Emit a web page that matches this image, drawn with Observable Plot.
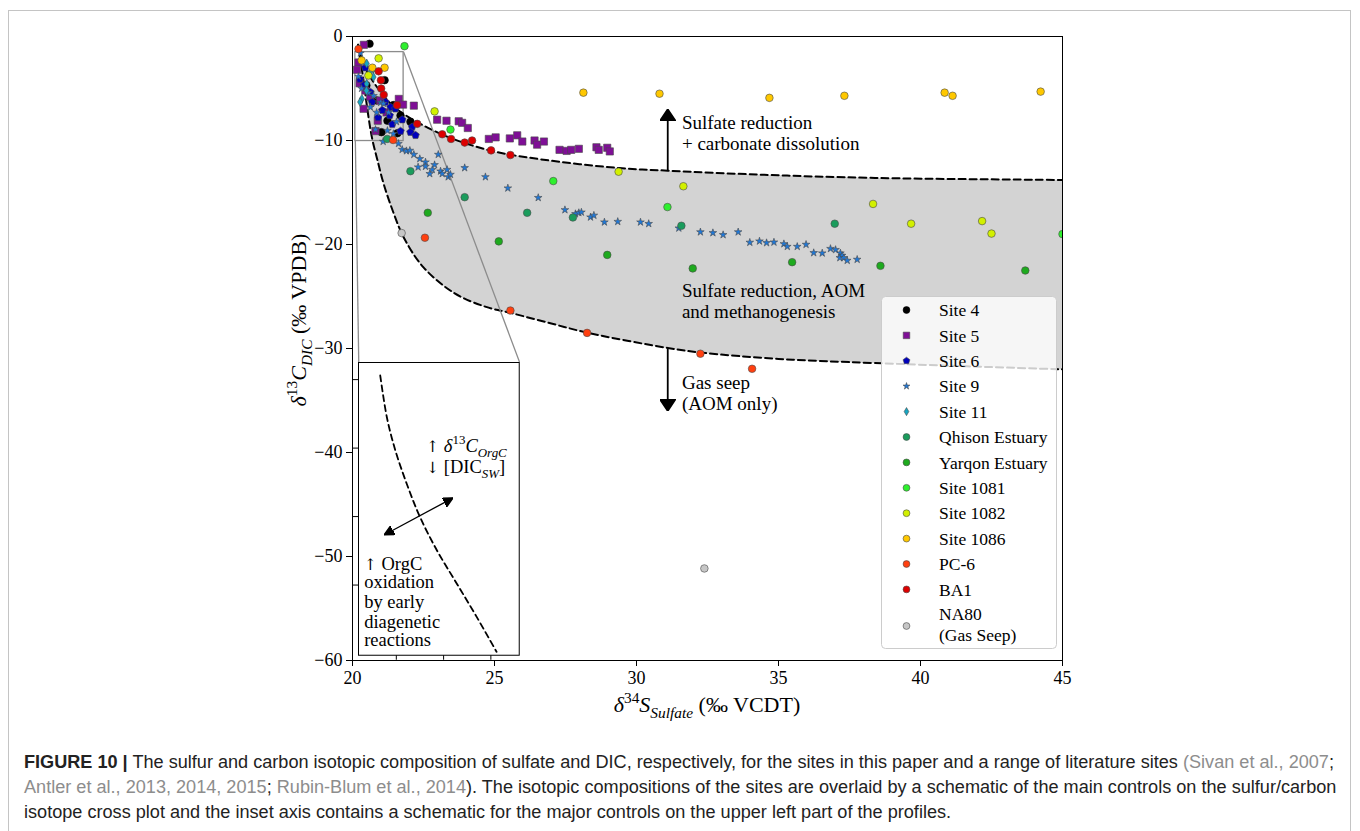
<!DOCTYPE html>
<html>
<head>
<meta charset="utf-8">
<script src="https://cdn.jsdelivr.net/npm/d3@7"></script>
<script src="https://cdn.jsdelivr.net/npm/@observablehq/plot@0.6"></script>
<style>
  html, body { margin: 0; padding: 0; background: #fff; }
  body { width: 1360px; height: 831px; overflow: hidden; position: relative; }
  #frame { position: absolute; left: 8px; top: 10px; width: 1343px; height: 900px; border: 1px solid #c4c4c4; box-sizing: border-box; }
  #chart { position: absolute; left: 0; top: 0; }
  #inset { position: absolute; }
  #caption { position: absolute; left: 24px; top: 750px; font-family: "Liberation Sans", Arial, sans-serif; font-size: 16px; line-height: 25px; color: #222; white-space: nowrap; }
  #caption .c { color: #8d8d8d; }
  #caption .ln { display: inline-block; }
</style>
</head>
<body>
<div id="frame"></div>
<div id="chart"></div>
<div id="inset"></div>
<div id="caption">
  <span class="ln" id="ln1"><b>FIGURE 10 |</b> The sulfur and carbon isotopic composition of sulfate and DIC, respectively, for the sites in this paper and a range of literature sites <span class="c">(Sivan et al., 2007</span>;</span><br>
  <span class="ln" id="ln2"><span class="c">Antler et al., 2013, 2014, 2015</span>; <span class="c">Rubin-Blum et al., 2014</span>). The isotopic compositions of the sites are overlaid by a schematic of the main controls on the sulfur/carbon</span><br>
  <span class="ln" id="ln3">isotope cross plot and the inset axis contains a schematic for the major controls on the upper left part of the profiles.</span>
</div>
<script>
// ---------------- data ----------------
const xTicks = [20, 25, 30, 35, 40, 45];
const yTicks = [0, -10, -20, -30, -40, -50, -60];
const insetXTicks = [20.5, 21, 21.5];
const insetYTicks = [-2, -4, -6, -8];
const zoomX = [20.1, 21.8];
const zoomY = [-10.05, -1.5];

const site4 = [[20.60,-0.7],[20.49,-4.7],[21.13,-4.2],[20.85,-6.15],[21.44,-6.6],[21.69,-7.6],[21.23,-8.1],[22.04,-8.2],[21.02,-9.2],[21.58,-9.3]];
const site5 = [[20.40,-0.8],[20.21,-2.5],[20.16,-3.2],[20.25,-4.5],[20.45,-5.2],[20.62,-5.8],[20.97,-6.15],[20.39,-6.95],[21.2,-7.3],[21.63,-6.0],[21.78,-6.55],[22.16,-6.65],[20.89,-8.1],[20.81,-9.1],
  [22.98,-8.0],[23.31,-8.1],[23.74,-8.15],[23.86,-8.3],[24.06,-8.8],[24.80,-9.85],[25.04,-9.7],[25.54,-9.8],[25.80,-9.5],[25.98,-10.1],[26.41,-10.0],[26.50,-10.4],[26.74,-10.1],[27.29,-10.9],[27.54,-11.0],[27.70,-10.9],[27.97,-10.8],[28.59,-10.65],[28.67,-10.9],[28.97,-10.7],[29.06,-11.05]];
const site6 = [[20.45,-3.0],[20.26,-4.1],[20.40,-4.7],[20.63,-5.35],[20.69,-6.3],[21.16,-6.3],[21.34,-6.8],[21.51,-6.95],[21.05,-7.1],[21.31,-7.6],[20.9,-7.8],[21.40,-8.45],[21.75,-8.0],[22.10,-8.7],[21.69,-9.1],[22.04,-9.2],[22.22,-9.5]];
const site9 = [[20.28,-1.6],[20.35,-2.5],[20.21,-3.85],[20.32,-5.0],[20.56,-5.4],[20.74,-5.7],[20.99,-6.35],[21.09,-6.45],[20.63,-6.8],[20.85,-7.3],[21.27,-7.3],[21.55,-8.2],[20.81,-8.95],[21.23,-9.05],[21.44,-9.35],[21.62,-10.3],
  [21.08,-10.1],[21.75,-10.87],[21.90,-11.0],[22.02,-10.96],[22.16,-11.35],[22.37,-11.76],[22.57,-12.08],[22.31,-12.56],[22.57,-12.5],[22.89,-12.34],[22.81,-12.8],[22.72,-13.2],[23.10,-12.95],[23.16,-13.2],[23.33,-12.8],[23.37,-13.5],[23.45,-13.27],[23.02,-11.35],[23.95,-12.63],[24.68,-13.5],[25.47,-14.58],[26.54,-15.5],
  [27.48,-16.67],[27.85,-17.05],[27.97,-16.95],[28.06,-16.9],[28.38,-17.37],[28.50,-17.2],[28.87,-17.85],[29.34,-17.8],[30.14,-17.85],[30.43,-18.0],[31.49,-18.43],[32.25,-18.8],[32.69,-18.88],[33.05,-19.07],[33.58,-18.8],[33.99,-19.8],[34.33,-19.68],[34.58,-19.84],[34.84,-19.78],[35.19,-19.94],[35.31,-20.2],[35.66,-20.2],[35.97,-20.0],[36.24,-20.8],[36.54,-20.83],[36.83,-20.4],[37.01,-20.5],[37.18,-20.83],[37.24,-21.06],[37.16,-21.28],[37.30,-21.28],[37.42,-21.54],[37.77,-21.44]];
const site11 = [[20.50,-2.6],[20.74,-3.1],[20.62,-3.45],[20.74,-3.9],[20.50,-4.55],[20.49,-5.2],[20.33,-6.0],[20.27,-6.3]];
const qhison = [[21.22,-9.85],[22.04,-12.95],[23.95,-15.45],[26.15,-16.95],[27.76,-17.4],[31.58,-18.2],[36.98,-18.0]];
const yarqon = [[22.65,-16.95],[25.15,-19.7],[28.97,-21.0],[31.98,-22.3],[35.48,-21.7],[38.59,-22.05],[43.69,-22.5]];
const site1081 = [[21.83,-0.93],[23.45,-8.95],[27.07,-13.9],[31.09,-16.4],[45.0,-19.0]];
const site1082 = [[20.92,-2.1],[20.56,-3.75],[22.89,-7.2],[29.37,-13.0],[31.65,-14.4],[38.33,-16.1],[39.67,-18.0],[42.17,-17.75],[42.50,-18.95]];
const site1086 = [[20.32,-2.3],[20.70,-3.0],[21.13,-3.0],[28.13,-5.4],[30.81,-5.5],[34.68,-5.9],[37.32,-5.7],[40.85,-5.4],[41.13,-5.7],[44.23,-5.3]];
const pc6 = [[20.21,-1.2],[21.43,-9.95],[22.55,-19.35],[25.56,-26.35],[28.26,-28.5],[32.25,-30.5],[34.07,-31.95]];
const ba1 = [[20.92,-3.35],[21.0,-4.2],[21.01,-5.0],[21.10,-5.6],[21.57,-6.6],[22.28,-8.4],[23.16,-9.4],[23.47,-9.85],[23.95,-10.2],[24.21,-10.0],[24.88,-10.95],[25.56,-11.4]];
const na80 = [[21.73,-18.9],[32.39,-51.15]];

// schematic boundaries (continue slightly past the right edge; clipped by the frame)
const upperCurve = [[20.2,-0.8],[20.45,-3.0],[20.9,-5.0],[21.4,-6.6],[22.0,-7.8],[22.6,-8.7],[23.4,-9.7],[24.9,-11.0],[26.6,-11.8],[29.4,-12.65],[31.1,-12.9],[34.5,-13.3],[38.4,-13.6],[45,-13.8],[48,-13.9]];
const lowerCurve = [[20.2,-0.8],[20.4,-4.5],[20.55,-7.5],[20.69,-9.8],[20.87,-11.8],[21.1,-14.2],[21.45,-17.0],[21.8,-19.3],[22.5,-22.2],[23.6,-24.7],[24.7,-26.0],[25.6,-26.6],[27.0,-27.6],[28.3,-28.5],[31.1,-29.95],[32.3,-30.4],[35,-31.0],[38.4,-31.4],[45,-32.0],[48,-32.2]];
const insetCurve = [[20.33,-1.88],[20.40,-3.10],[20.49,-4.07],[20.61,-5.04],[20.75,-6.01],[20.93,-6.99],[21.14,-7.96],[21.35,-8.93],[21.56,-9.95]];

const annoLines = [
  {x: 31.6, y: -8.35, t: "Sulfate reduction"},
  {x: 31.6, y: -10.3, t: "+ carbonate dissolution"},
  {x: 31.6, y: -24.5, t: "Sulfate reduction, AOM"},
  {x: 31.6, y: -26.45, t: "and methanogenesis"},
  {x: 31.6, y: -33.35, t: "Gas seep"},
  {x: 31.6, y: -35.3, t: "(AOM only)"}
];
const annoArrows = [
  {x1: 31.1, y1: -12.9, x2: 31.1, y2: -7.05},
  {x1: 31.1, y1: -30.0, x2: 31.1, y2: -35.95}
];
const insetLines = [
  {x: 20.16, y: -7.92, t: "oxidation"},
  {x: 20.16, y: -8.49, t: "by early"},
  {x: 20.16, y: -9.08, t: "diagenetic"},
  {x: 20.16, y: -9.62, t: "reactions"}
];
const insetArrow = [{x1: 20.375, y1: -6.53, x2: 21.096, y2: -5.46}];
const insetRich = [{x: 20.82, y: -3.95}, {x: 20.82, y: -4.58}, {x: 20.16, y: -7.40}];
const insetBox = {x1: 20.22, x2: 25.88, y1: -59.45, y2: -31.3};

// ---------------- styles ----------------
const pentagon = {draw(ctx, size) {
  const r = Math.sqrt(size / Math.PI);
  for (let i = 0; i < 5; i++) {
    const a = -Math.PI / 2 + i * 2 * Math.PI / 5;
    const px = r * Math.cos(a), py = r * Math.sin(a);
    if (i === 0) ctx.moveTo(px, py); else ctx.lineTo(px, py);
  }
  ctx.closePath();
}};
const thinDiamond = {draw(ctx, size) {
  const r = Math.sqrt(size / Math.PI);
  const h = r * 1.25, w = r * 0.72;
  ctx.moveTo(0, -h); ctx.lineTo(w, 0); ctx.lineTo(0, h); ctx.lineTo(-w, 0); ctx.closePath();
}};

const series = [
  {name: "Site 4", pts: site4, color: "#000000", symbol: "circle", r: 3.8},
  {name: "Site 5", pts: site5, color: "#7f0f96", symbol: "square", r: 4.1},
  {name: "Site 6", pts: site6, color: "#0000bb", symbol: pentagon, r: 4.0},
  {name: "Site 9", pts: site9, color: "#1f78d8", symbol: "star", r: 2.4},
  {name: "Site 11", pts: site11, color: "#16a6c2", symbol: thinDiamond, r: 3.6},
  {name: "Qhison Estuary", pts: qhison, color: "#1a9c5c", symbol: "circle", r: 3.8},
  {name: "Yarqon Estuary", pts: yarqon, color: "#1eaa1e", symbol: "circle", r: 3.8},
  {name: "Site 1081", pts: site1081, color: "#2ef02e", symbol: "circle", r: 3.8},
  {name: "Site 1082", pts: site1082, color: "#d2f000", symbol: "circle", r: 3.8},
  {name: "Site 1086", pts: site1086, color: "#ffc800", symbol: "circle", r: 3.8},
  {name: "PC-6", pts: pc6, color: "#ff4010", symbol: "circle", r: 3.8},
  {name: "BA1", pts: ba1, color: "#dd0000", symbol: "circle", r: 3.8},
  {name: "NA80\n(Gas Seep)", pts: na80, color: "#c6c6c6", symbol: "circle", r: 3.8}
];

const serif = "'Liberation Serif', 'DejaVu Serif', serif";
const arrowFont = "'DejaVu Serif', serif";
const toXY = a => a.map(([x, y]) => ({x, y}));
const polygon = toXY(upperCurve.concat(lowerCurve.slice().reverse()));

function triMarker(len, wid) {
  return (color) => {
    const ns = "http://www.w3.org/2000/svg";
    const m = document.createElementNS(ns, "marker");
    m.setAttribute("viewBox", `0 ${-wid / 2} ${len} ${wid}`);
    m.setAttribute("markerWidth", len);
    m.setAttribute("markerHeight", wid);
    m.setAttribute("markerUnits", "userSpaceOnUse");
    m.setAttribute("refX", len - 0.5);
    m.setAttribute("refY", 0);
    m.setAttribute("orient", "auto-start-reverse");
    const p = document.createElementNS(ns, "path");
    p.setAttribute("d", `M0,${-wid / 2}L${len},0L0,${wid / 2}Z`);
    p.setAttribute("fill", color === "none" ? "black" : color);
    m.appendChild(p);
    return m;
  };
}
const minus = d => (d < 0 ? "\u2212" + Math.abs(d) : String(d));

const dotMarks = series.map(s => Plot.dot(toXY(s.pts), {
  x: "x", y: "y", r: s.r, symbol: s.symbol, fill: s.color,
  stroke: s.color === "#000000" ? "#000" : "#4a4a4a", strokeWidth: 0.6, clip: true
}));

const main = Plot.plot({
  width: 1360, height: 720,
  marginLeft: 352, marginRight: 298, marginTop: 36, marginBottom: 60,
  x: {domain: [20, 45], ticks: xTicks, tickFormat: d => String(d), label: null, tickSize: 6, tickPadding: 5},
  y: {domain: [-60, 0], ticks: yTicks, tickFormat: minus, label: null, tickSize: 6, tickPadding: 4},
  style: {fontFamily: serif, fontSize: "18px", background: "transparent", overflow: "visible", color: "black"},
  marks: [
    Plot.line(polygon, {x: "x", y: "y", fill: "#d3d3d3", stroke: "none", curve: "catmull-rom", clip: true}),
    Plot.line(toXY(upperCurve), {x: "x", y: "y", stroke: "black", strokeWidth: 2, strokeDasharray: "7,4", curve: "catmull-rom", clip: true}),
    Plot.line(toXY(lowerCurve), {x: "x", y: "y", stroke: "black", strokeWidth: 2, strokeDasharray: "7,4", curve: "catmull-rom", clip: true}),
    Plot.rect([{x1: zoomX[0], x2: zoomX[1], y1: zoomY[0], y2: zoomY[1]}], {x1: "x1", x2: "x2", y1: "y1", y2: "y2", fill: "none", stroke: "#8c8c8c", strokeWidth: 1.3}),
    Plot.link([
      {x1: zoomX[1], y1: zoomY[1], x2: insetBox.x2, y2: insetBox.y2},
      {x1: zoomX[0], y1: zoomY[0], x2: insetBox.x1, y2: insetBox.y2}
    ], {x1: "x1", y1: "y1", x2: "x2", y2: "y2", stroke: "#8c8c8c", strokeWidth: 1.3}),
    Plot.link(annoArrows, {x1: "x1", y1: "y1", x2: "x2", y2: "y2", stroke: "black", strokeWidth: 1.8, markerEnd: triMarker(12, 16)}),
    Plot.text(annoLines, {x: "x", y: "y", text: "t", textAnchor: "start", lineAnchor: "middle", fontSize: 19, fontFamily: serif, fill: "black"}),
    ...dotMarks,
    Plot.frame({stroke: "black", strokeWidth: 1})
  ]
});
document.getElementById("chart").appendChild(main);

const sx = main.scale("x").apply, sy = main.scale("y").apply;
const svg = d3.select(main);

function rich(g, x, y, parts, size, opts = {}) {
  const t = g.append("text").attr("x", opts.rotate ? 0 : x).attr("y", opts.rotate ? 0 : y)
    .attr("font-size", size).attr("font-family", serif).attr("fill", "black")
    .attr("text-anchor", opts.anchor || "start");
  if (opts.rotate) t.attr("transform", `translate(${x},${y}) rotate(-90)`);
  let shift = 0;
  for (const p of parts) {
    const target = p.s === "sup" ? -0.4 * size : p.s === "sub" ? 0.25 * size : 0;
    const ts = t.append("tspan").text(p.t).attr("dy", target - shift);
    shift = target;
    if (p.s) ts.attr("font-size", size * 0.7);
    if (p.i) ts.attr("font-style", "italic");
    if (p.f) ts.attr("font-family", p.f).attr("font-size", size * 0.85);
  }
  return t;
}

// axis labels
rich(svg, (sx(20) + sx(45)) / 2, 712, [
  {t: "\u03b4", i: true}, {t: "34", s: "sup"}, {t: "S", i: true}, {t: "Sulfate", i: true, s: "sub"}, {t: " (\u2030 VCDT)"}
], 22, {anchor: "middle"});
rich(svg, 306, 320, [
  {t: "\u03b4", i: true}, {t: "13", s: "sup"}, {t: "C", i: true}, {t: "DIC", i: true, s: "sub"}, {t: " (\u2030 VPDB)"}
], 22, {anchor: "middle", rotate: true});

// legend
const lg = svg.append("g").attr("text-anchor", "start");
lg.append("rect").attr("x", 881.5).attr("y", 296.5).attr("width", 175).attr("height", 352).attr("rx", 4)
  .attr("fill", "white").attr("fill-opacity", 0.8).attr("stroke", "#cccccc");
const symMap = {circle: d3.symbolCircle, square: d3.symbolSquare, star: d3.symbolStar};
series.forEach((s, i) => {
  const lines = s.name.split("\n");
  const cy = lines.length > 1 ? 626 : 310 + i * 25.4;
  const type = typeof s.symbol === "string" ? symMap[s.symbol] : s.symbol;
  const rr = s.r * 0.9;
  lg.append("path").attr("d", d3.symbol(type, Math.PI * rr * rr)())
    .attr("transform", `translate(906.5,${cy})`).attr("fill", s.color)
    .attr("stroke", s.color === "#000000" ? "#000" : "#4a4a4a").attr("stroke-width", 0.6);
  lines.forEach((ln, j) => {
    const ty = lines.length > 1 ? 613.5 + j * 21.5 : cy;
    lg.append("text").attr("x", 939).attr("y", ty).attr("dy", "0.35em").attr("font-size", 17.5)
      .attr("text-anchor", "start").attr("font-family", serif).attr("fill", "black").text(ln);
  });
});

// ---------------- inset ----------------
const iL = sx(insetBox.x1), iR = sx(insetBox.x2), iT = sy(insetBox.y2), iB = sy(insetBox.y1);
const mL = 8, mT = 2, mR = 2, mB = 8;
const inset = Plot.plot({
  width: (iR - iL) + mL + mR, height: (iB - iT) + mT + mB,
  marginLeft: mL, marginTop: mT, marginRight: mR, marginBottom: mB,
  x: {domain: zoomX, ticks: insetXTicks, tickFormat: () => "", label: null, tickSize: 5},
  y: {domain: zoomY, ticks: insetYTicks, tickFormat: () => "", label: null, tickSize: 5},
  style: {fontFamily: serif, fontSize: "18px", background: "transparent", overflow: "visible", color: "black"},
  marks: [
    Plot.frame({fill: "white", stroke: null}),
    Plot.line(toXY(insetCurve), {x: "x", y: "y", stroke: "black", strokeWidth: 1.8, strokeDasharray: "6,4", curve: "catmull-rom"}),
    Plot.link(insetArrow, {x1: "x1", y1: "y1", x2: "x2", y2: "y2", stroke: "black", strokeWidth: 1.3, markerStart: triMarker(10, 10), markerEnd: triMarker(10, 10)}),
    Plot.text(insetLines, {x: "x", y: "y", text: "t", textAnchor: "start", lineAnchor: "middle", fontSize: 18.5, fontFamily: serif, fill: "black"}),
    Plot.frame({stroke: "black", strokeWidth: 1})
  ]
});
const insetDiv = document.getElementById("inset");
insetDiv.style.left = (iL - mL) + "px";
insetDiv.style.top = (iT - mT) + "px";
insetDiv.appendChild(inset);
const isx = inset.scale("x").apply, isy = inset.scale("y").apply;
const isvg = d3.select(inset);
rich(isvg, isx(insetRich[0].x), isy(insetRich[0].y) + 6, [
  {t: "\u2191", f: arrowFont}, {t: " "}, {t: "\u03b4", i: true}, {t: "13", s: "sup"}, {t: "C", i: true}, {t: "OrgC", i: true, s: "sub"}
], 18.5);
rich(isvg, isx(insetRich[1].x), isy(insetRich[1].y) + 6, [
  {t: "\u2193", f: arrowFont}, {t: " [DIC"}, {t: "SW", i: true, s: "sub"}, {t: "]"}
], 18.5);
rich(isvg, isx(insetRich[2].x), isy(insetRich[2].y) + 6, [
  {t: "\u2191", f: arrowFont}, {t: " OrgC"}
], 18.5);

// caption fit
const l2 = document.getElementById("ln2");
const w2 = l2.getBoundingClientRect().width;
if (w2 > 0) {
  const fs = 16 * 1314 / w2;
  document.getElementById("caption").style.fontSize = fs.toFixed(2) + "px";
}
</script>
</body>
</html>
